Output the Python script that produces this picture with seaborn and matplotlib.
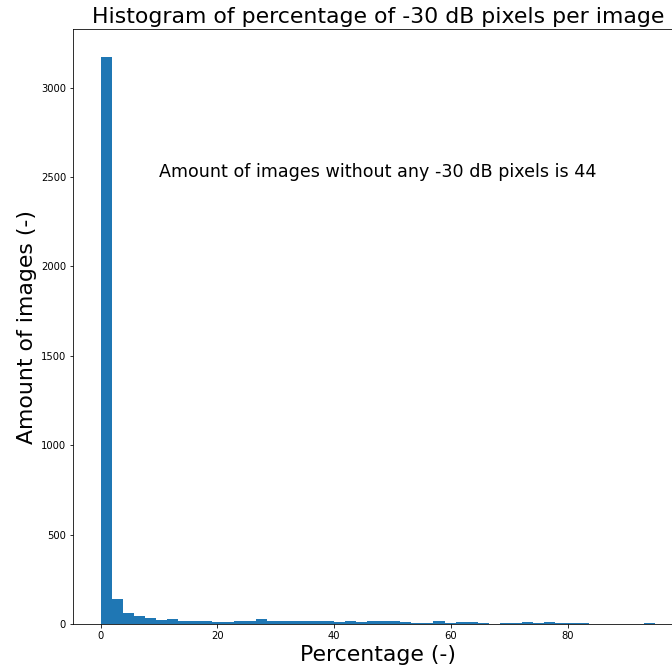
import numpy as np
import pandas as pd
import matplotlib
matplotlib.use("Agg")
import matplotlib.pyplot as plt
import seaborn as sns

# Bin counts (50 bins)
max_percentage = 95.0
n_bins = 50
counts = [3170, 138, 60, 43, 35, 22, 28, 16, 17, 17,
          11, 11, 17, 17, 28, 17, 17, 17, 17, 17,
          17, 10, 17, 10, 17, 17, 17, 10, 6, 6,
          17, 6, 11, 11, 6, 0, 6, 6, 11, 6,
          11, 6, 6, 6, 0, 0, 0, 0, 0, 6]
n_zero = 44

edges = np.linspace(0, max_percentage, n_bins + 1)
df = pd.DataFrame({"Percentage": (edges[:-1] + edges[1:]) / 2, "Count": counts})

fig = plt.figure(figsize=(672 / 72, 672 / 72), dpi=72)
# axes runs past the right edge of the figure, as in the cropped original
ax = fig.add_axes([73 / 672, 48 / 672, 610 / 672, 595 / 672])

sns.histplot(data=df, x="Percentage", weights="Count", bins=n_bins,
             binrange=(0, max_percentage),
             color="#1f77b4", alpha=1, linewidth=0, ax=ax)

ax.margins(x=0.05)
ax.set_ylim(0, max(counts) * 1.05)
ax.set_title("Histogram of percentage of -30 dB pixels per image", fontsize=22)
ax.set_xlabel("Percentage (-)", fontsize=22)
ax.set_ylabel("Amount of images (-)", fontsize=22)
ax.tick_params(labelsize=10)
ax.text(10, 2500, f"Amount of images without any -30 dB pixels is {n_zero}", fontsize=17.5)

fig.savefig("out.png", dpi=72)
